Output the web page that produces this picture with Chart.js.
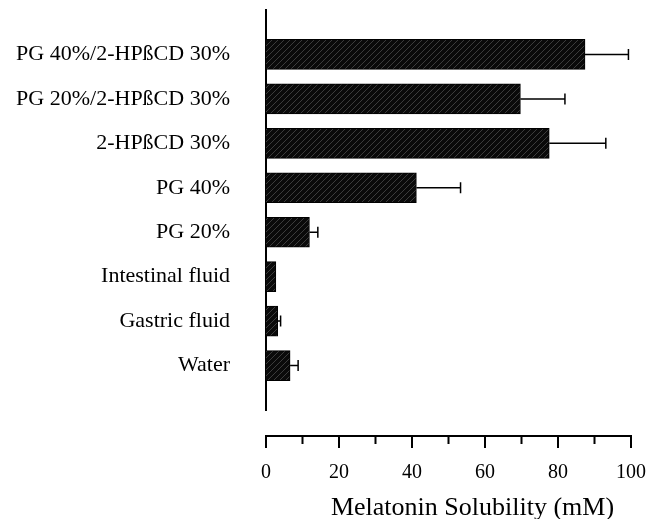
<!DOCTYPE html>
<html>
<head>
<meta charset="utf-8">
<script src="https://cdn.jsdelivr.net/npm/chart.js@4.4.0/dist/chart.umd.min.js"></script>
<style>
  body { margin: 0; background: #fff; }
</style>
</head>
<body>
<canvas id="solubilityChart" width="649" height="519"></canvas>
<script>
const formulations = ['PG 40%/2-HPßCD 30%', 'PG 20%/2-HPßCD 30%', '2-HPßCD 30%', 'PG 40%', 'PG 20%', 'Intestinal fluid', 'Gastric fluid', 'Water'];
const solubility = [87.4, 69.7, 77.6, 41.2, 11.9, 2.7, 3.2, 6.6];
const errors = [11.9, 12.2, 15.5, 12.1, 2.3, 0, 0.8, 2.2];
const xTicks = [0, 20, 40, 60, 80, 100];

const serif = "'Liberation Serif', 'Times New Roman', serif";

// empty slots at both ends so the axis runs past the first and last bar
const labels = [''].concat(formulations, ['']);
const values = [null].concat(solubility, [null]);

function makeHatch() {
    const tile = document.createElement('canvas');
    tile.width = 6;
    tile.height = 6;
    const t = tile.getContext('2d');
    t.fillStyle = '#0a0a0a';
    t.fillRect(0, 0, 6, 6);
    t.strokeStyle = '#3c3c3c';
    t.lineWidth = 1;
    t.beginPath();
    t.moveTo(0, 6);
    t.lineTo(6, 0);
    t.stroke();
    return t.createPattern(tile, 'repeat');
}

// one-sided error bars with a cap
const errorBars = {
    id: 'errorBars',
    afterDatasetsDraw(chart) {
        const ctx = chart.ctx;
        const x = chart.scales.x;
        const bars = chart.getDatasetMeta(0).data;
        ctx.save();
        ctx.strokeStyle = '#000';
        ctx.lineWidth = 1.5;
        solubility.forEach((v, i) => {
            if (!errors[i]) return;
            const y = bars[i + 1].y;
            const x1 = x.getPixelForValue(v);
            const x2 = x.getPixelForValue(v + errors[i]);
            ctx.beginPath();
            ctx.moveTo(x1, y);
            ctx.lineTo(x2, y);
            ctx.moveTo(x2, y - 5.5);
            ctx.lineTo(x2, y + 5.5);
            ctx.stroke();
        });
        ctx.restore();
    }
};

// x axis sits a little below the plot, with long ticks on the labelled values
const lowerAxis = {
    id: 'lowerAxis',
    afterDraw(chart) {
        const ctx = chart.ctx;
        const x = chart.scales.x;
        const area = chart.chartArea;
        const y0 = area.bottom + 26;
        ctx.save();
        ctx.strokeStyle = '#000';
        ctx.lineWidth = 2;
        ctx.beginPath();
        ctx.moveTo(x.getPixelForValue(0) - 1, y0);
        ctx.lineTo(x.getPixelForValue(100) + 1, y0);
        x.ticks.forEach(t => {
            const px = x.getPixelForValue(t.value);
            ctx.moveTo(px, y0);
            ctx.lineTo(px, y0 + (xTicks.includes(t.value) ? 12 : 8));
        });
        ctx.stroke();

        ctx.fillStyle = '#000';
        ctx.font = '26px ' + serif;
        ctx.textAlign = 'center';
        ctx.textBaseline = 'alphabetic';
        ctx.fillText('Melatonin Solubility (mM)', (area.left + area.right) / 2 + 24, area.bottom + 105);
        ctx.restore();
    }
};

new Chart(document.getElementById('solubilityChart'), {
    type: 'bar',
    data: {
        labels: labels,
        datasets: [{
            data: values,
            backgroundColor: makeHatch(),
            borderColor: '#000',
            borderWidth: 1,
            barThickness: 30
        }]
    },
    options: {
        indexAxis: 'y',
        responsive: false,
        animation: false,
        devicePixelRatio: 1,
        layout: { padding: { top: 10, right: 18, bottom: 0, left: 0 } },
        plugins: {
            legend: { display: false },
            tooltip: { enabled: false }
        },
        scales: {
            x: {
                min: 0,
                max: 100,
                grid: { display: false },
                border: { display: false },
                ticks: {
                    stepSize: 10,
                    autoSkip: false,
                    maxRotation: 0,
                    padding: 43,
                    color: '#000',
                    font: { family: serif, size: 20 },
                    callback: v => xTicks.includes(v) ? v : ''
                },
                afterFit: s => {
                    s.height = 109;
                    s.paddingLeft = 0;
                    s.paddingRight = 0;
                }
            },
            y: {
                offset: false,
                grid: { display: false },
                border: { display: true, color: '#000', width: 2 },
                ticks: {
                    padding: 28,
                    autoSkip: false,
                    color: '#000',
                    font: { family: serif, size: 22 }
                },
                afterFit: s => {
                    s.width = 266;
                    s.paddingTop = 0;
                    s.paddingBottom = 0;
                }
            }
        }
    },
    plugins: [errorBars, lowerAxis]
});
</script>
</body>
</html>
